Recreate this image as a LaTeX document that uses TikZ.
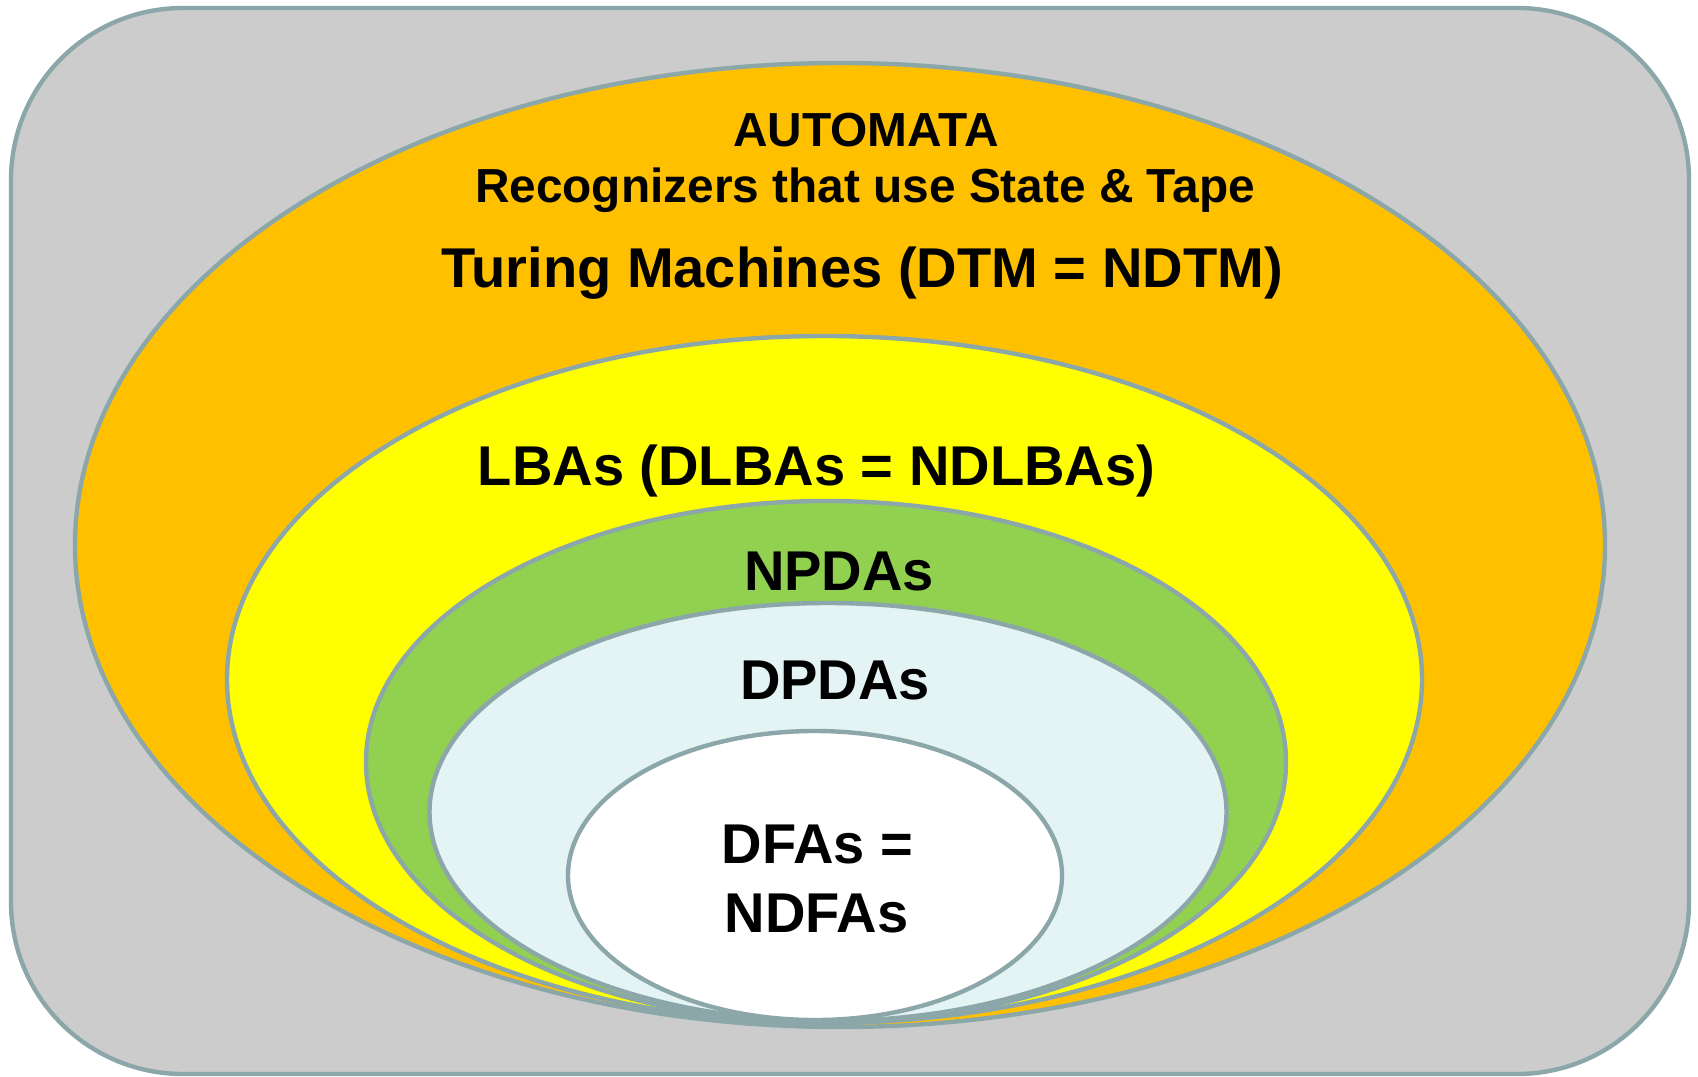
\documentclass[tikz,border=0pt]{standalone}
\usepackage{fontspec}
\setmainfont{Liberation Sans}
\usetikzlibrary{shapes}

\definecolor{rim}{RGB}{140,167,170}
\definecolor{greybg}{RGB}{204,204,204}
\definecolor{tmorange}{RGB}{255,192,0}
\definecolor{lbayellow}{RGB}{255,255,0}
\definecolor{npdagreen}{RGB}{146,208,80}
\definecolor{dpdablue}{RGB}{228,243,243}

\begin{document}
\begin{tikzpicture}[
    zone/.style={ellipse, draw=rim, line width=1.25pt, inner sep=0pt},
    bigtext/.style={font=\fontsize{15.95}{19}\selectfont\bfseries, anchor=base, inner sep=0pt},
    smalltext/.style={font=\fontsize{13.6}{16}\selectfont\bfseries, anchor=base, inner sep=0pt}
]
    \useasboundingbox (0,0) rectangle (16.98,10.76);

    % frame and nested classes
    \node[draw=rim, fill=greybg, line width=1.25pt, rounded corners=1.72cm, minimum width=16.78cm, minimum height=10.66cm, inner sep=0pt] (frame) at (8.50, 5.35) {};
    \node[zone, fill=tmorange, minimum width=15.30cm, minimum height=9.64cm] (tm) at (8.40, 5.31) {};
    \node[zone, fill=lbayellow, minimum width=11.95cm, minimum height=6.87cm] (lba) at (8.245, 3.965) {};
    \node[zone, fill=npdagreen, minimum width=9.20cm, minimum height=5.22cm] (npda) at (8.26, 3.14) {};
    \node[zone, fill=dpdablue, minimum width=7.97cm, minimum height=4.18cm] (dpda) at (8.28, 2.64) {};
    \node[zone, fill=white, minimum width=4.94cm, minimum height=2.89cm] (dfa) at (8.15, 2.005) {};

    % labels
    \node[smalltext] (title) at (8.66, 9.29) {AUTOMATA};
    \node[smalltext] (subtitle) at (8.65, 8.735) {Recognizers that use State \& Tape};
    \node[bigtext] (tmlabel) at (8.62, 7.88) {Turing Machines (DTM = NDTM)};
    \node[bigtext] (lbalabel) at (8.165, 5.91) {LBAs (DLBAs = NDLBAs)};
    \node[bigtext] (npdalabel) at (8.39, 4.86) {NPDAs};
    \node[bigtext] (dpdalabel) at (8.35, 3.765) {DPDAs};
    \node[bigtext] (dfalabel) at (8.175, 2.13) {DFAs =};
    \node[bigtext] (ndfalabel) at (8.165, 1.44) {NDFAs};

\end{tikzpicture}
\end{document}
